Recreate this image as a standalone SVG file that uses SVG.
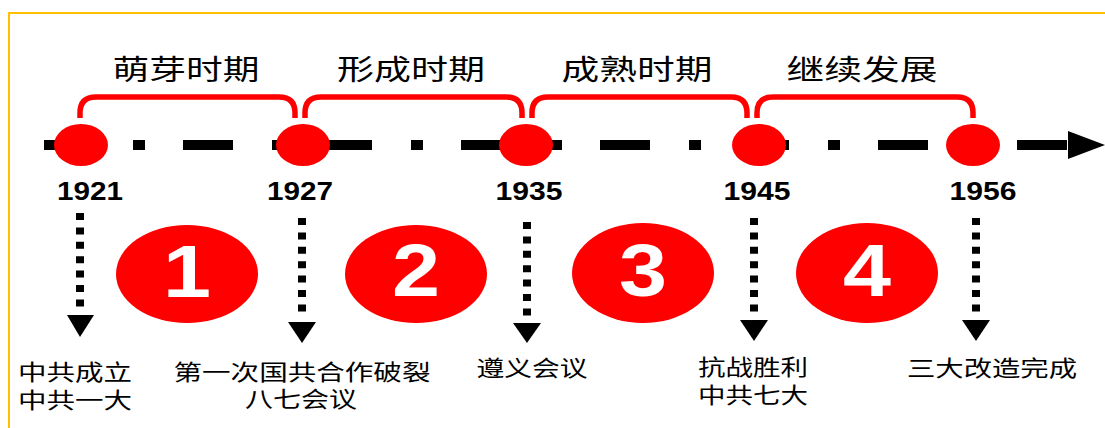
<svg xmlns="http://www.w3.org/2000/svg" width="1105" height="428" viewBox="0 0 1105 428">
<style>
.frame{fill:none;stroke:#FFC000;stroke-width:2}
.axis{stroke:#000;stroke-width:10;stroke-dasharray:50 39 12 38;fill:none}
.dot{fill:#FF0000}
.brk{fill:none;stroke:#FF0000;stroke-width:5.5;stroke-linejoin:round}
.year{font-family:"Liberation Sans",Arial,sans-serif;font-weight:bold;font-size:25px;fill:#000;text-anchor:middle}
.period{font-family:"Noto Sans CJK SC","Noto Sans",sans-serif;font-size:28px;fill:#000;text-anchor:middle}
.num{fill:#FF0000}
.numt{font-family:"Liberation Sans",Arial,sans-serif;font-weight:bold;font-size:74px;fill:#fff;text-anchor:middle}
.drop{stroke:#000;stroke-width:8;stroke-dasharray:7 7.4;fill:none}
.head{fill:#000}
.ev{font-family:"Noto Sans CJK SC","Noto Sans",sans-serif;font-size:22px;fill:#000;text-anchor:middle}
</style>
<rect class="frame" x="9" y="13" width="1110" height="430"/>
<g id="timeline">
<line class="axis" x1="44" y1="145" x2="1067" y2="145"/>
<polygon class="head" points="1068,131 1105,145 1068,159"/>
</g>
<g id="brackets">
<path class="brk" d="M80,118 V113 Q80,97 96,97 H279 Q295,97 295,113 V118"/>
<path class="brk" d="M305,118 V113 Q305,97 321,97 H506 Q522,97 522,113 V118"/>
<path class="brk" d="M532,118 V113 Q532,97 548,97 H731 Q747,97 747,113 V118"/>
<path class="brk" d="M757,118 V113 Q757,97 773,97 H957 Q973,97 973,113 V118"/>
</g>
<g id="periods">
<text class="period" x="186" y="80" textLength="147" lengthAdjust="spacingAndGlyphs">萌芽时期</text>
<text class="period" x="411" y="80" textLength="148" lengthAdjust="spacingAndGlyphs">形成时期</text>
<text class="period" x="637" y="80" textLength="151" lengthAdjust="spacingAndGlyphs">成熟时期</text>
<text class="period" x="862" y="80" textLength="151" lengthAdjust="spacingAndGlyphs">继续发展</text>
</g>
<g id="y1921"><ellipse class="dot" cx="81" cy="145" rx="27" ry="21"/><text class="year" x="90" y="200" textLength="66" lengthAdjust="spacingAndGlyphs">1921</text></g>
<g id="y1927"><ellipse class="dot" cx="303" cy="145" rx="27" ry="21"/><text class="year" x="300" y="200" textLength="66" lengthAdjust="spacingAndGlyphs">1927</text></g>
<g id="y1935"><ellipse class="dot" cx="526" cy="145" rx="27" ry="21"/><text class="year" x="529" y="200" textLength="67" lengthAdjust="spacingAndGlyphs">1935</text></g>
<g id="y1945"><ellipse class="dot" cx="759" cy="145" rx="27" ry="21"/><text class="year" x="757" y="200" textLength="67" lengthAdjust="spacingAndGlyphs">1945</text></g>
<g id="y1956"><ellipse class="dot" cx="973" cy="145" rx="27" ry="21"/><text class="year" x="983" y="200" textLength="67" lengthAdjust="spacingAndGlyphs">1956</text></g>
<g id="stage1"><ellipse class="num" cx="187" cy="274" rx="71" ry="49"/><text class="numt" x="187" y="297" textLength="48" lengthAdjust="spacingAndGlyphs">1</text></g>
<g id="stage2"><ellipse class="num" cx="416" cy="274" rx="71" ry="49"/><text class="numt" x="416" y="296" textLength="48" lengthAdjust="spacingAndGlyphs">2</text></g>
<g id="stage3"><ellipse class="num" cx="643" cy="273" rx="71" ry="50"/><text class="numt" x="643" y="296" textLength="48" lengthAdjust="spacingAndGlyphs">3</text></g>
<g id="stage4"><ellipse class="num" cx="867" cy="273" rx="71" ry="50"/><text class="numt" x="867" y="296" textLength="48" lengthAdjust="spacingAndGlyphs">4</text></g>
<g id="connectors">
<line class="drop" x1="80" y1="213" x2="80" y2="312"/><polygon class="head" points="67,315 94,315 80,337"/>
<line class="drop" x1="302" y1="218" x2="302" y2="318"/><polygon class="head" points="288,322 316,322 302,343"/>
<line class="drop" x1="527" y1="222" x2="527" y2="318"/><polygon class="head" points="513,323 541,323 527,343"/>
<line class="drop" x1="754" y1="218" x2="754" y2="316"/><polygon class="head" points="740,320 768,320 754,341"/>
<line class="drop" x1="976" y1="218" x2="976" y2="316"/><polygon class="head" points="962,320 990,320 976,341"/>
</g>
<g id="ev1921"><text class="ev"><tspan x="75" y="380" textLength="114" lengthAdjust="spacingAndGlyphs">中共成立</tspan><tspan x="75" y="408" textLength="114" lengthAdjust="spacingAndGlyphs">中共一大</tspan></text></g>
<g id="ev1927"><text class="ev"><tspan x="302" y="380" textLength="257" lengthAdjust="spacingAndGlyphs">第一次国共合作破裂</tspan><tspan x="301" y="407" textLength="112" lengthAdjust="spacingAndGlyphs">八七会议</tspan></text></g>
<g id="ev1935"><text class="ev" x="532" y="376" textLength="111" lengthAdjust="spacingAndGlyphs">遵义会议</text></g>
<g id="ev1945"><text class="ev"><tspan x="753" y="375" textLength="110" lengthAdjust="spacingAndGlyphs">抗战胜利</tspan><tspan x="753" y="403" textLength="110" lengthAdjust="spacingAndGlyphs">中共七大</tspan></text></g>
<g id="ev1956"><text class="ev" x="992" y="376" textLength="170" lengthAdjust="spacingAndGlyphs">三大改造完成</text></g>
</svg>
